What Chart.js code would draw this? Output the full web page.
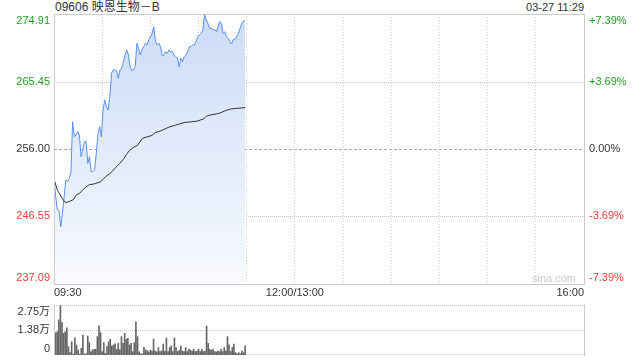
<!DOCTYPE html>
<html lang="zh">
<head>
<meta charset="UTF-8">
<title>09606 映恩生物－B</title>
<script src="https://cdn.jsdelivr.net/npm/chart.js@4.4.1/dist/chart.umd.min.js"></script>
<style>
  body { margin: 0; background: #fff; }
  #wrap { position: relative; width: 640px; height: 360px; overflow: hidden;
    font-family: "Liberation Sans", Arial, "Noto Sans CJK SC", sans-serif; color: #333; }
  #wrap canvas { position: absolute; left: 0; }
  .txt { position: absolute; white-space: nowrap; }
</style>
</head>
<body>
<div id="wrap">
  <div class="txt" style="left:55px;top:0;font-size:12px;line-height:14px;">09606 映恩生物－B</div>
  <div class="txt" style="right:56px;top:0;font-size:11px;line-height:14px;">03-27 11:29</div>
  <canvas id="main" width="640" height="300" style="top:0"></canvas>
  <div class="txt" style="left:532px;top:272px;font-size:11px;color:#c8c8c8;">sina.com</div>
  <canvas id="vol" width="640" height="64" style="top:296px"></canvas>
</div>
<script>
// price every minute from 09:30 to 11:29
const prices = [
  251.80, 249.32, 247.46, 247.36, 245.12, 246.99, 249.32, 251.66, 251.42, 251.89,
  252.68, 259.83, 257.73, 257.96, 258.43, 257.96, 254.93, 255.86, 257.03, 257.03,
  253.99, 254.93, 252.82, 252.82, 253.06, 255.39, 258.19, 259.13, 257.73, 261.46,
  262.86, 261.93, 261.46, 263.33, 266.60, 267.07, 267.07, 266.97, 265.90, 267.07,
  267.30, 268.23, 269.17, 269.87, 269.17, 267.53, 266.97, 267.07, 267.53, 270.80,
  270.10, 269.17, 269.87, 270.33, 270.80, 270.57, 271.27, 271.73, 272.20, 273.13,
  271.03, 270.57, 270.80, 270.33, 269.03, 269.17, 269.63, 269.40, 269.87, 269.63,
  269.63, 269.17, 268.93, 268.70, 267.53, 268.70, 268.23, 268.93, 269.17, 269.63,
  270.33, 270.33, 270.57, 270.57, 271.03, 271.73, 271.97, 272.20, 272.67, 274.85,
  274.07, 273.60, 272.90, 272.90, 272.76, 272.76, 272.43, 273.13, 273.83, 273.60,
  272.20, 272.43, 271.73, 271.50, 271.03, 270.71, 271.36, 271.36, 271.73, 272.20,
  272.90, 273.60, 273.93, 273.93
];
// average price line (minute after open, value)
const avgMinutes = [0,2,5,7,9,12,14,16,18,20,22,25,29,32,35,38,41,43,45,47,50,52,55,58,61,63,66,69,72,75,78,81,85,89,93,95,98,101,104,107,110,114,117,119];
const avgPrices = [251.8,250.3,249.1,248.5,248.6,248.9,249.6,249.8,250.3,250.7,251.0,251.1,251.4,252.1,252.6,253.3,254.0,254.5,255.2,255.8,256.3,256.5,257.5,257.7,257.9,258.3,258.5,258.8,259.1,259.3,259.5,259.7,259.8,259.9,260.2,260.6,260.8,260.9,261.1,261.4,261.6,261.7,261.75,261.8];
// volume in 万 shares
const volumes = [
  1.89,1.23,1.28,1.93,2.71,1.78,1.19,1.28,1.50,0.46,
  0.13,0.73,0.05,0.95,0.55,0.28,0.05,0.37,1.10,0.06,
  0.06,1.05,0.68,0.18,0.28,0.31,0.31,1.01,1.61,1.23,
  0.18,0.68,0.09,0.46,0.73,0.86,0.50,0.55,0.61,0.31,
  0.64,0.28,1.01,0.64,1.19,0.86,0.92,0.55,0.64,0.18,
  0.68,1.83,1.01,0.18,0.06,0.06,0.42,0.28,0.24,
  0.17,0.26,0.22,0.88,0.22,0.17,0.41,0.19,0.22,0.60,
  0.19,0.94,0.19,0.41,0.50,0.19,0.94,0.41,0.19,0.26,
  0.50,0.22,0.19,0.41,0.19,0.32,0.26,0.22,0.32,0.19,
  0.22,0.32,0.19,0.32,0.19,0.22,1.59,0.64,0.32,0.26,
  0.32,0.19,0.17,0.22,0.19,0.32,0.19,0.41,0.22,1.01,
  0.56,0.19,0.41,0.60,0.13,0.07,0.13,0.07,0.22,0.13,0.50
];
const priceTicks = [274.91, 265.45, 256.00, 246.55, 237.09];
const priceLabels = ['274.91', '265.45', '256.00', '246.55', '237.09'];
const pctLabels = ['+7.39%', '+3.69%', '0.00%', '-3.69%', '-7.39%'];
const prevClose = 256.00;
const volTicks = [2.75, 1.38, 0];
const volLabels = ['2.75万', '1.38万', '0'];
const timeTicks = [0, 150, 330];
const timeLabels = ['09:30', '12:00/13:00', '16:00'];
const gridMinutes = [0, 30, 60, 90, 120, 150, 180, 210, 240, 270, 300, 330];
const lastMinute = 119;

const FONT = '"Liberation Sans", Arial, "Noto Sans CJK SC", sans-serif';
const GREEN = '#1f9e1f', RED = '#f03a3a', DARK = '#333';

const toPts = (xs, ys) => ys.map((v, i) => ({ x: xs[i], y: v }));
const spread = arr => arr.map((_, i) => i * lastMinute / (arr.length - 1));

// side labels (kept inside the frame like the original), frame and
// horizontal value lines; lines are filled 1px rects so they land on whole pixels
const panel = {
  id: 'panel',
  beforeDatasetsDraw(chart, args, o) {
    const ctx = chart.ctx, a = chart.chartArea, sc = chart.scales.y;
    const l = Math.round(a.left), r = Math.round(a.right);
    const t = Math.round(a.top), b = Math.round(a.bottom);
    ctx.save();
    o.ticks.forEach(v => {
      const py = Math.min(Math.round(sc.getPixelForValue(v)), b - 1);
      if (o.frameAll && (py <= t || py >= b - 1)) return;
      const mid = v === o.center;
      const on = mid ? 3 : 1, step = mid ? 5 : 2;
      ctx.fillStyle = mid ? '#a8a8a8' : '#c4c4c4';
      for (let x = l; x < r; x += step) ctx.fillRect(x, py, Math.min(on, r - x), 1);
    });
    ctx.restore();
  },
  afterDraw(chart, args, o) {
    const ctx = chart.ctx, a = chart.chartArea, sc = chart.scales.y;
    const l = Math.round(a.left), r = Math.round(a.right);
    const t = Math.round(a.top), b = Math.round(a.bottom);
    ctx.save();
    ctx.fillStyle = '#cccccc';
    ctx.fillRect(l, t, 1, b - t);
    ctx.fillRect(r, t, 1, b - t + 1);
    if (o.frameAll) {
      ctx.fillRect(l, t, r - l, 1);
      ctx.fillRect(l, b, r - l, 1);
    }

    ctx.font = '11px ' + FONT;
    ctx.textBaseline = 'middle';
    o.ticks.forEach((v, i) => {
      let py = sc.getPixelForValue(v);
      py = Math.min(Math.max(py, a.top + 6.5), a.bottom - 6.5);
      ctx.fillStyle = o.colors[i];
      ctx.textAlign = 'right';
      ctx.fillText(o.left[i], a.left - 4, py);
      if (o.right) {
        ctx.textAlign = 'left';
        ctx.fillText(o.right[i], a.right + 5, py);
      }
    });
    ctx.restore();
  }
};

new Chart(document.getElementById('main'), {
  type: 'line',
  data: {
    datasets: [{
      data: toPts(avgMinutes, avgPrices),
      borderColor: '#333',
      borderWidth: 1,
      pointRadius: 0,
      fill: false
    }, {
      data: toPts(spread(prices), prices),
      borderColor: '#5a8ff0',
      borderWidth: 1,
      pointRadius: 0,
      fill: 'start',
      backgroundColor: c => {
        const a = c.chart.chartArea;
        if (!a) return 'rgba(0,0,0,0)';
        const g = c.chart.ctx.createLinearGradient(0, a.top, 0, a.bottom);
        g.addColorStop(0, '#cbdbf6');
        g.addColorStop(1, '#f8fafe');
        return g;
      }
    }]
  },
  options: {
    responsive: false,
    animation: false,
    layout: { padding: { top: 14, left: 0, right: 0, bottom: 0 } },
    plugins: {
      legend: { display: false },
      tooltip: { enabled: false },
      panel: { ticks: priceTicks, left: priceLabels, right: pctLabels, center: prevClose,
        colors: [GREEN, GREEN, DARK, RED, RED], frameAll: true }
    },
    scales: {
      x: {
        type: 'linear', min: 0, max: 330,
        afterBuildTicks: s => { s.ticks = gridMinutes.map(v => ({ value: v })); },
        afterFit: s => { s.height = 16; },
        ticks: {
          autoSkip: false, maxRotation: 0, align: 'inner', padding: 2,
          color: DARK, font: { size: 11, family: FONT },
          callback: v => { const i = timeTicks.indexOf(v); return i < 0 ? '' : timeLabels[i]; }
        },
        grid: { color: '#d0d0d0', drawTicks: false },
        border: { display: false, dash: [1, 2] }
      },
      y: {
        min: 237.09, max: 274.91,
        afterBuildTicks: s => { s.ticks = priceTicks.map(v => ({ value: v })); },
        afterFit: s => { s.width = 54; },
        ticks: { display: false },
        grid: { display: false },
        border: { display: false }
      },
      y2: {
        position: 'right', min: 237.09, max: 274.91,
        afterFit: s => { s.width = 56; },
        ticks: { display: false },
        grid: { display: false },
        border: { display: false }
      }
    }
  },
  plugins: [panel]
});

new Chart(document.getElementById('vol'), {
  type: 'bar',
  data: {
    datasets: [{
      data: toPts(spread(volumes), volumes),
      backgroundColor: '#666',
      barThickness: 1
    }]
  },
  options: {
    responsive: false,
    animation: false,
    layout: { padding: { top: 9, bottom: 5, left: 0, right: 56 } },
    plugins: {
      legend: { display: false },
      tooltip: { enabled: false },
      panel: { ticks: volTicks, left: volLabels, right: null, center: null,
        colors: [DARK, DARK, DARK], frameAll: false }
    },
    scales: {
      x: { type: 'linear', min: 0, max: 330, offset: false, display: false },
      y: {
        min: 0, max: 2.75,
        afterBuildTicks: s => { s.ticks = volTicks.map(v => ({ value: v })); },
        afterFit: s => { s.width = 54; },
        ticks: { display: false },
        grid: { display: false },
        border: { display: false }
      }
    }
  },
  plugins: [panel]
});
</script>
</body>
</html>
